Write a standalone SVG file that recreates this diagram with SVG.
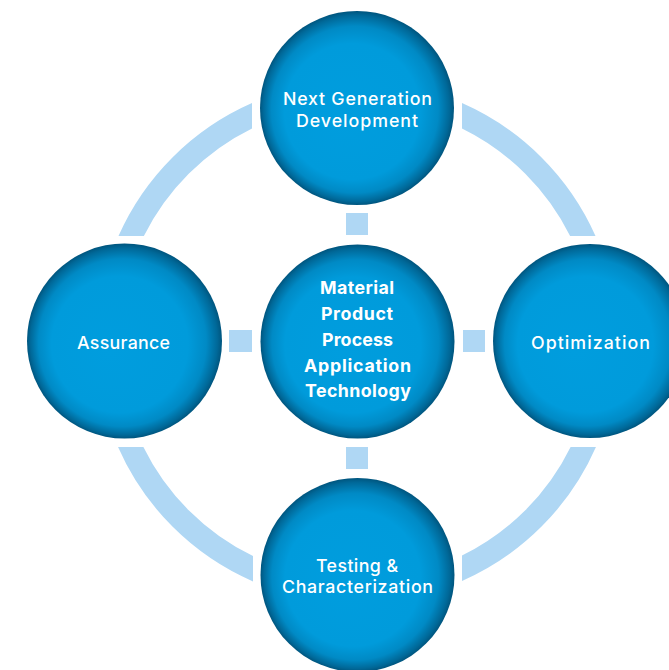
<svg xmlns="http://www.w3.org/2000/svg" width="669" height="670" viewBox="0 0 669 670">
  <defs>
    <radialGradient id="ball" cx="0.5" cy="0.5" r="0.5" fx="0.42" fy="0.56">
      <stop offset="0" stop-color="#009DDE"/>
      <stop offset="0.7" stop-color="#009BDB"/>
      <stop offset="0.86" stop-color="#008AC5"/>
      <stop offset="0.96" stop-color="#006898"/>
      <stop offset="1" stop-color="#00557E"/>
    </radialGradient>
    <clipPath id="arcs">
      <rect x="0" y="0" width="252" height="236"/>
      <rect x="462" y="0" width="207" height="236"/>
      <rect x="0" y="447" width="253" height="223"/>
      <rect x="462" y="447" width="207" height="223"/>
    </clipPath>
    <style>
      .ball { fill: url(#ball); }
      .sq { fill: #AFD7F4; }
      .lbl { fill: #FFFFFF; font-family: Inter, "Open Sans", "Liberation Sans", sans-serif; font-size: 17.8px; font-weight: 500; text-anchor: middle; }
      .bold { font-weight: 700; }
    </style>
  </defs>
  <rect width="669" height="670" fill="#FFFFFF"/>
  <g id="connectors">
    <circle cx="357" cy="342" r="249.5" fill="none" stroke="#AFD7F4" stroke-width="23" clip-path="url(#arcs)"/>
    <rect class="sq" x="346" y="213" width="22" height="22"/>
    <rect class="sq" x="229" y="330" width="23" height="22"/>
    <rect class="sq" x="463" y="330" width="22" height="22"/>
    <rect class="sq" x="346" y="447" width="22" height="22"/>
  </g>
  <g id="node-top">
    <circle class="ball" cx="357" cy="108" r="97"/>
    <text class="lbl" x="357.5" y="105" textLength="149" lengthAdjust="spacing">Next Generation</text>
    <text class="lbl" x="357" y="127" textLength="122" lengthAdjust="spacing">Development</text>
  </g>
  <g id="node-center">
    <circle class="ball" cx="357.5" cy="341.5" r="97"/>
    <text class="lbl bold" x="357" y="294" textLength="74" lengthAdjust="spacing">Material</text>
    <text class="lbl bold" x="357" y="320" textLength="72" lengthAdjust="spacing">Product</text>
    <text class="lbl bold" x="357.5" y="346" textLength="71" lengthAdjust="spacing">Process</text>
    <text class="lbl bold" x="357.5" y="372" textLength="107" lengthAdjust="spacing">Application</text>
    <text class="lbl bold" x="358" y="397" textLength="106" lengthAdjust="spacing">Technology</text>
  </g>
  <g id="node-left">
    <circle class="ball" cx="124.5" cy="341" r="97.5"/>
    <text class="lbl" x="123.5" y="349" textLength="93" lengthAdjust="spacing">Assurance</text>
  </g>
  <g id="node-right">
    <circle class="ball" cx="590" cy="341" r="97"/>
    <text class="lbl" x="590.5" y="349" textLength="119" lengthAdjust="spacing">Optimization</text>
  </g>
  <g id="node-bottom">
    <circle class="ball" cx="357.5" cy="575" r="97"/>
    <text class="lbl" x="357" y="572" textLength="82" lengthAdjust="spacing">Testing &amp;</text>
    <text class="lbl" x="357.5" y="593" textLength="151" lengthAdjust="spacing">Characterization</text>
  </g>
</svg>
